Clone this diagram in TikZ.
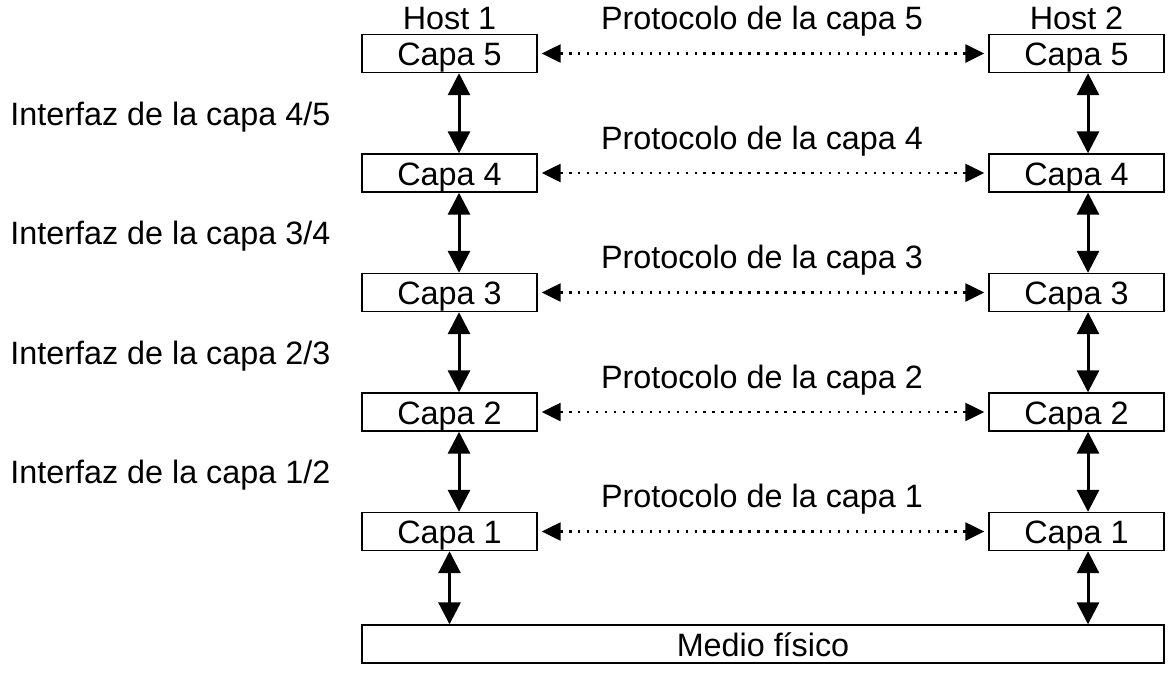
\documentclass[tikz,border=0pt]{standalone}
\usepackage{fontspec}
\setmainfont{Liberation Sans}
\usetikzlibrary{arrows.meta}

\begin{document}
\begin{tikzpicture}[
    every node/.style={font=\fontsize{18.4}{22}\selectfont},
    capa/.style={draw, line width=0.8pt, minimum width=3.5cm, minimum height=0.76cm,
        inner sep=0pt, text height=0.48cm, text depth=0cm},
    etiq/.style={inner sep=0pt, text height=0.48cm, text depth=0cm},
    interfaz/.style={{Triangle[length=0.44cm,width=0.44cm]}-{Triangle[length=0.44cm,width=0.44cm]},
        line width=1.7pt},
    protocolo/.style={{Triangle[length=0.38cm,width=0.36cm]}-{Triangle[length=0.38cm,width=0.36cm]},
        line width=1.4pt, dash pattern=on 1.4pt off 3.7pt,
        shorten <=0.08cm, shorten >=0.08cm}
]
    \useasboundingbox (0,0) rectangle (23.48,-13.44);

    % las dos pilas de capas
    \foreach \i in {1,...,5} {
        \pgfmathsetmacro{\y}{-1.07-(5-\i)*2.39}
        \node[capa] (L\i) at (8.99,\y) {Capa \i};
        \node[capa] (R\i) at (21.53,\y) {Capa \i};
        \node[etiq] (P\i) at (15.24,\y+0.72) {Protocolo de la capa \i};
        \draw[protocolo] (L\i) -- (R\i);
    }

    \node[etiq] (H1) at (8.99,-0.35) {Host 1};
    \node[etiq] (H2) at (21.53,-0.35) {Host 2};

    % interfaces entre capas
    \foreach \i/\j in {4/5,3/4,2/3,1/2} {
        \pgfmathsetmacro{\y}{-1.07-(5-\j)*2.39-1.195}
        \node[etiq, anchor=west] (I\i) at (0.2,\y) {Interfaz de la capa \i/\j};
        \draw[interfaz] ([xshift=0.19cm]L\j.south) -- ([xshift=0.19cm]L\i.north);
        \draw[interfaz] ([xshift=0.23cm]R\j.south) -- ([xshift=0.23cm]R\i.north);
    }

    \node[capa, minimum width=16.04cm] (M) at (15.26,-12.88) {Medio físico};
    \draw[interfaz] (L1.south) -- (L1.south |- M.north);
    \draw[interfaz] ([xshift=0.23cm]R1.south) -- ([xshift=0.23cm]R1.south |- M.north);
\end{tikzpicture}
\end{document}
